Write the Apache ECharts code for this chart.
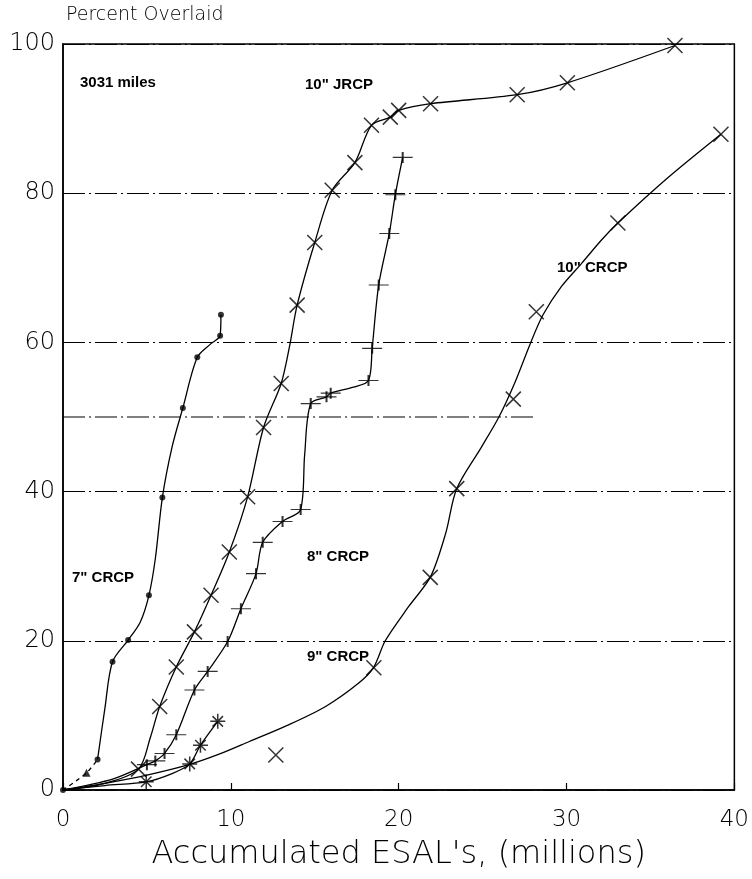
<!DOCTYPE html>
<html>
<head>
<meta charset="utf-8">
<script src="https://cdn.jsdelivr.net/npm/echarts@6/dist/echarts.min.js"></script>
<style>
html,body{margin:0;padding:0;background:#fff;}
#chart{width:752px;height:879px;}
</style>
</head>
<body>
<div id="chart"></div>
<script>
// ---- Data (x: accumulated ESALs in millions, y: percent overlaid) ----
var xTicks = [0, 10, 20, 30, 40];
var yTicks = [0, 20, 40, 60, 80, 100];

// 7" CRCP (dots)
var crcp7Dashed = [[0, 0], [1.4, 2.3], [2.06, 4.1]];
var crcp7Curve = [[2.06, 4.1], [2.5, 11], [2.95, 17.2], [3.88, 20.1], [4.6, 22.5], [5.12, 26.1], [5.5, 31], [5.92, 39.2], [6.5, 46], [7.14, 51.2], [8.0, 58.0], [8.8, 59.8], [9.36, 60.9], [9.41, 63.7]];
var crcp7Marks = [[0, 0], [2.06, 4.1], [2.95, 17.2], [3.88, 20.1], [5.12, 26.1], [5.92, 39.2], [7.14, 51.2], [8.0, 58.0], [9.36, 60.9], [9.41, 63.7]];
var crcp7Tri = [[1.4, 2.3]];

// 10" JRCP (x marks)
var jrcp10Curve = [[0, 0], [2.5, 0.9], [4.5, 2.8], [5.2, 7], [5.76, 11.2], [6.75, 16.5], [7.83, 21.2], [8.82, 26.1], [9.91, 31.9], [11.0, 39.3], [11.95, 48.6], [13.0, 54.5], [13.5, 59.5], [13.95, 65.0], [15.0, 73.4], [16.04, 80.4], [17.39, 84.1], [18.38, 89.1], [19.5, 90.2], [20.0, 91.1], [21.9, 92.0], [27.06, 93.2], [30.05, 94.8], [36.46, 99.8]];
var jrcp10Marks = [[4.5, 2.8], [5.76, 11.2], [6.75, 16.5], [7.83, 21.2], [8.82, 26.1], [9.91, 31.9], [11.0, 39.3], [11.95, 48.6], [13.0, 54.5], [13.95, 65.0], [15.0, 73.4], [16.04, 80.4], [17.39, 84.1], [18.38, 89.1], [19.5, 90.2], [20.0, 91.1], [21.9, 92.0], [27.06, 93.2], [30.05, 94.8], [36.46, 99.8]];

// 8" CRCP (plus marks)
var crcp8Curve = [[0, 0], [3, 1.5], [5.0, 3.4], [5.5, 3.9], [6.05, 4.9], [6.75, 7.4], [7.83, 13.4], [8.62, 15.9], [9.81, 19.9], [10.6, 24.3], [11.5, 29.0], [11.9, 33.2], [13.08, 36.0], [14.16, 37.6], [14.4, 45], [14.76, 51.8], [15.7, 52.7], [15.95, 53.2], [17.3, 54], [18.2, 54.9], [18.42, 59.2], [18.81, 67.7], [19.44, 74.6], [19.8, 79.8], [20.24, 84.8]];
var crcp8Marks = [[5.0, 3.4], [5.5, 3.9], [6.05, 4.9], [6.75, 7.4], [7.83, 13.4], [8.62, 15.9], [9.81, 19.9], [10.6, 24.3], [11.5, 29.0], [11.9, 33.2], [13.08, 36.0], [14.16, 37.6], [14.76, 51.8], [15.7, 52.7], [15.95, 53.2], [18.2, 54.9], [18.42, 59.2], [18.81, 67.7], [19.44, 74.6], [19.8, 79.8], [20.24, 84.8]];

// 9" CRCP (asterisks)
var crcp9Curve = [[0, 0], [2.5, 0.6], [4.96, 1.1], [6.5, 2.2], [7.55, 3.5], [8.19, 6.0], [9.22, 9.2]];
var crcp9Marks = [[4.96, 1.1], [7.55, 3.5], [8.19, 6.0], [9.22, 9.2]];

// 10" CRCP (x marks)
var crcp10Curve = [[0, 0], [2.5, 0.9], [5, 2.0], [7.5, 3.4], [9.3, 4.8], [11.1, 6.5], [13.4, 8.7], [15.65, 11.2], [17.6, 14.3], [18.5, 16.4], [19.2, 20.0], [20.6, 24.6], [21.9, 28.6], [22.8, 34.4], [23.46, 40.4], [24.94, 46.0], [25.97, 50.0], [26.9, 54.5], [27.87, 60.0], [28.6, 63.7], [29.7, 67.5], [30.9, 70.6], [32.07, 73.7], [33.06, 76.0], [36, 82], [39.2, 87.9]];
var crcp10Marks = [[12.68, 4.7], [18.52, 16.4], [21.88, 28.5], [23.46, 40.4], [26.83, 52.4], [28.2, 64.1], [33.06, 76.0], [39.2, 87.9]];

// partial reference line at 50 %
var line50 = [[0, 50], [28, 50]];

// ---- Chart ----
var ink = '#000';
var crossPath = 'path://M0,0L10,10M10,0L0,10';
var plusPath = 'path://M0,5L18,5M9,0L9,10';
var starPath = 'path://M0,5L10,5M5,0L5,10M1.5,1.5L8.5,8.5M8.5,1.5L1.5,8.5';
var dashDot = [22, 4, 2, 4];
var labelFont = 'DejaVu Sans';

function curve(data, dashed) {
  return {
    type: 'line', data: data, smooth: 0.3, showSymbol: false, symbol: 'none',
    lineStyle: { color: ink, width: 1.3, type: dashed ? [4, 4] : 'solid' },
    silent: true, z: 3
  };
}
function marks(data, symbol, size, filled) {
  return {
    type: 'scatter', data: data, symbol: symbol, symbolSize: size,
    itemStyle: filled ? { color: ink } : { color: 'none', borderColor: ink, borderWidth: 1.5 },
    silent: true, z: 4
  };
}
function note(text, left, top) {
  return { type: 'text', left: left, top: top, style: { text: text, font: 'bold 15px "Liberation Sans"', fill: ink } };
}

var chart = echarts.init(document.getElementById('chart'), null, { renderer: 'canvas' });
chart.setOption({
  animation: false,
  backgroundColor: '#fff',
  grid: { left: 63, right: 15, top: 44, bottom: 89, show: true, borderColor: ink, borderWidth: 1.5, backgroundColor: 'transparent' },
  xAxis: {
    type: 'value', min: xTicks[0], max: xTicks[xTicks.length - 1], interval: 10,
    name: "Accumulated ESAL's, (millions)", nameLocation: 'middle', nameGap: 49,
    nameTextStyle: { fontSize: 32, color: ink, fontFamily: labelFont, fontWeight: 200 },
    axisLine: { show: true, lineStyle: { color: ink, width: 1.5 } },
    axisTick: { show: true, inside: true, length: 7, lineStyle: { color: ink, width: 1.2 } },
    axisLabel: { fontSize: 23, color: ink, margin: 19, fontFamily: labelFont, fontWeight: 200 },
    splitLine: { show: false }
  },
  yAxis: {
    type: 'value', min: yTicks[0], max: yTicks[yTicks.length - 1], interval: 20,
    axisLine: { show: true, lineStyle: { color: ink, width: 1.5 } },
    axisTick: { show: false },
    axisLabel: { fontSize: 24, color: ink, margin: 8, fontFamily: labelFont, fontWeight: 200 },
    splitLine: { show: true, lineStyle: { color: ink, width: 1.2, type: dashDot } }
  },
  graphic: [
    { type: 'text', left: 66, top: 6, style: { text: 'Percent Overlaid', font: '200 19px "DejaVu Sans"', fill: ink } },
    note('3031 miles', 80, 75),
    note('10" JRCP', 305, 77),
    note('10" CRCP', 557, 260),
    note('7" CRCP', 72, 570),
    note('8" CRCP', 307, 549),
    note('9" CRCP', 307, 649)
  ],
  series: [
    {
      type: 'line', data: line50, symbol: 'none', silent: true, z: 2,
      lineStyle: { color: ink, width: 1.2, type: dashDot }
    },
    curve(crcp7Dashed, true),
    curve(crcp7Curve, false),
    marks(crcp7Marks, 'circle', 6, true),
    marks(crcp7Tri, 'triangle', 8, true),
    curve(jrcp10Curve, false),
    marks(jrcp10Marks, crossPath, 15, false),
    curve(crcp8Curve, false),
    marks(crcp8Marks, plusPath, [20, 11], false),
    curve(crcp9Curve, false),
    marks(crcp9Marks, starPath, 15, false),
    curve(crcp10Curve, false),
    marks(crcp10Marks, crossPath, 15, false)
  ]
});
</script>
</body>
</html>
